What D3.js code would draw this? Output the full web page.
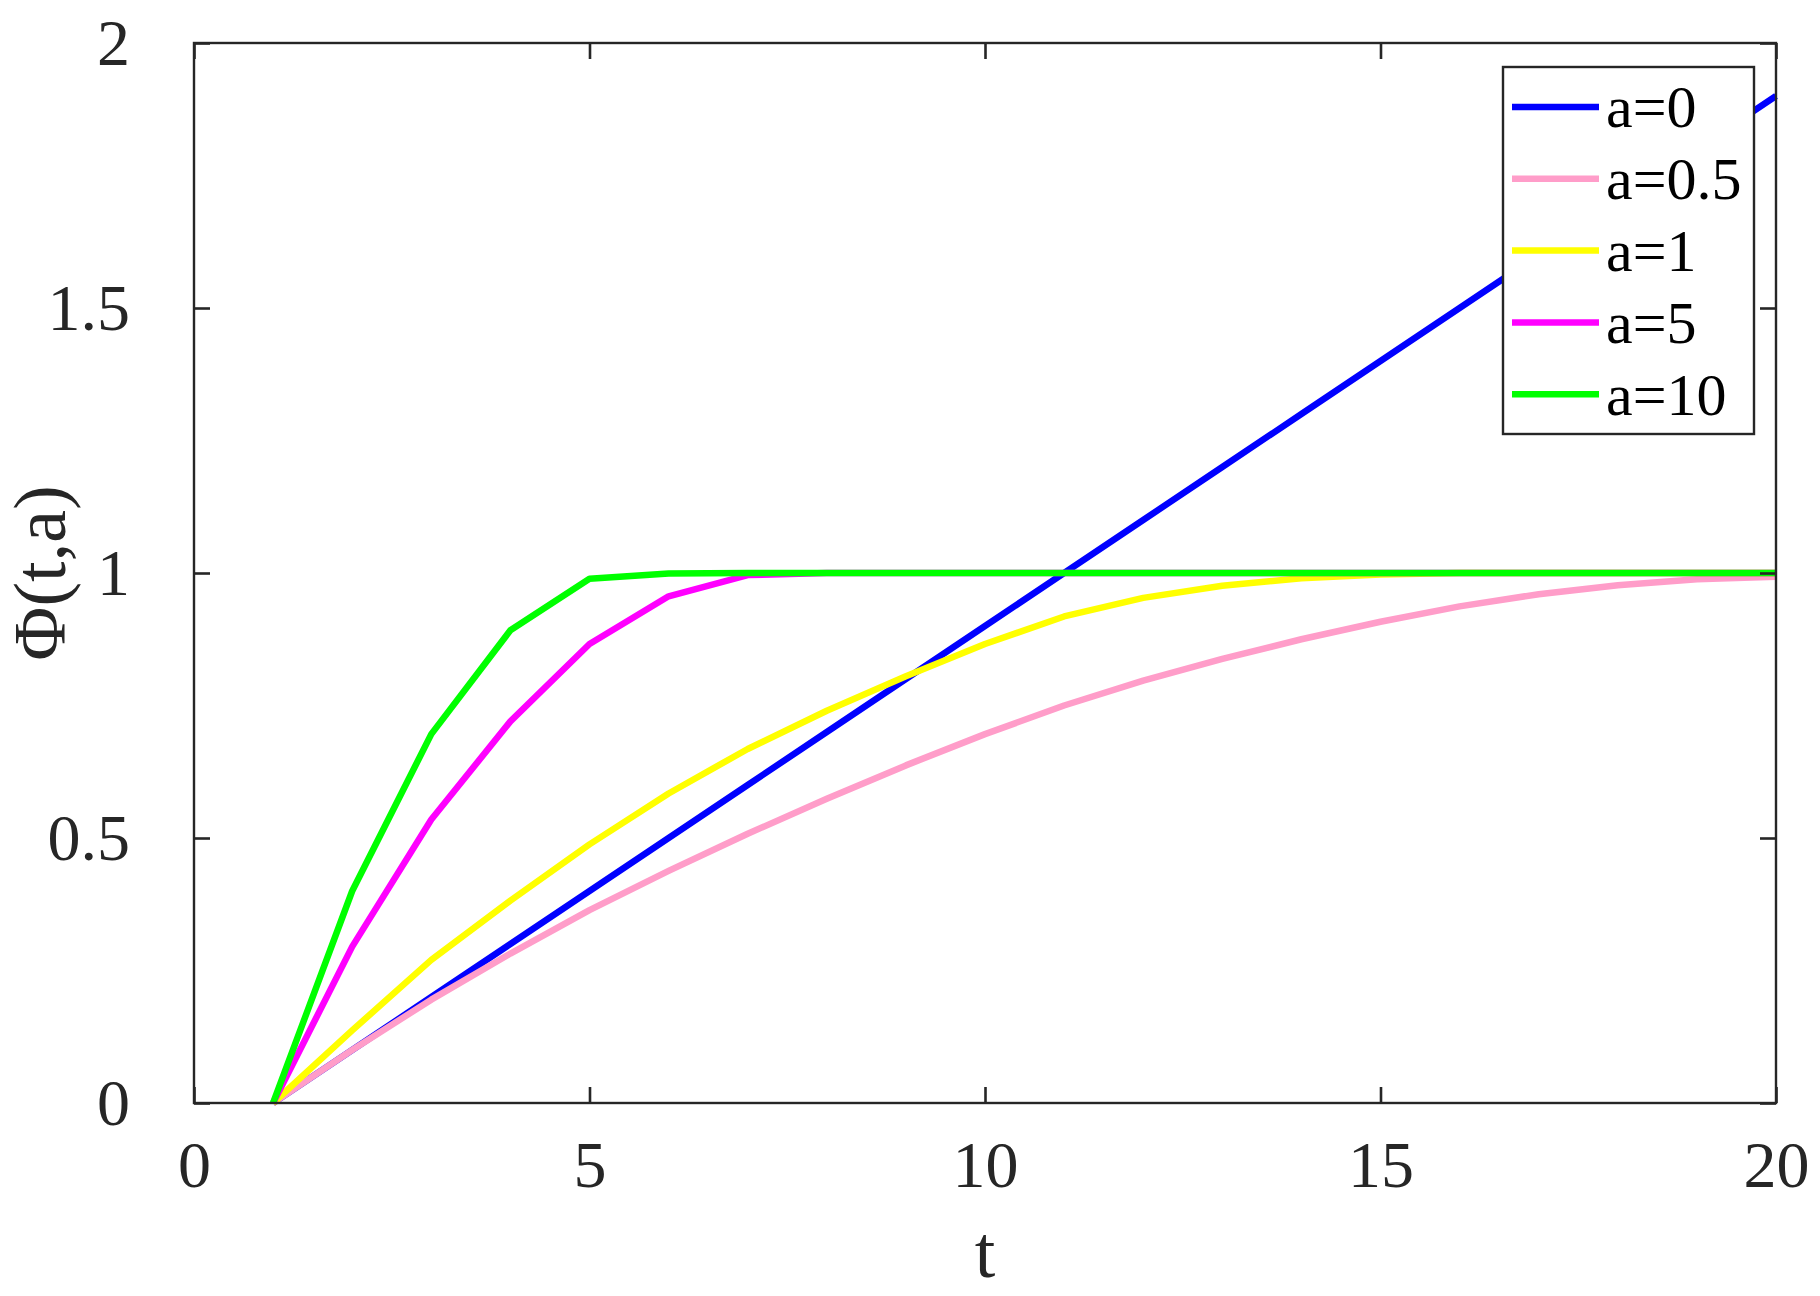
<!DOCTYPE html>
<html>
<head>
<meta charset="utf-8">
<script src="https://cdn.jsdelivr.net/npm/d3@7"></script>
<style>
  html, body { margin: 0; padding: 0; background: #fff; }
  svg text { font-family: "Liberation Serif", "Times New Roman", serif; }
</style>
</head>
<body>
<div id="chart"></div>
<script>
// values
var tValues = [1, 2, 3, 4, 5, 6, 7, 8, 9, 10, 11, 12, 13, 14, 15, 16, 17, 18, 19, 20];
var phiA0   = [0, 0.1, 0.2, 0.3, 0.4, 0.5, 0.6, 0.7, 0.8, 0.9, 1.0, 1.1, 1.2, 1.3, 1.4, 1.5, 1.6, 1.7, 1.8, 1.9];
var phiA05  = [0, 0.10, 0.195, 0.282, 0.364, 0.438, 0.508, 0.574, 0.637, 0.696, 0.750, 0.797, 0.838, 0.875, 0.908, 0.937, 0.960, 0.977, 0.988, 0.993];
var phiA1   = [0, 0.137, 0.27, 0.382, 0.488, 0.584, 0.668, 0.74, 0.805, 0.866, 0.918, 0.953, 0.976, 0.99, 0.997, 1, 1, 1, 1, 1];
var phiA5   = [0, 0.295, 0.535, 0.72, 0.866, 0.956, 0.996, 1, 1, 1, 1, 1, 1, 1, 1, 1, 1, 1, 1, 1];
var phiA10  = [0, 0.40, 0.696, 0.892, 0.989, 0.999, 1, 1, 1, 1, 1, 1, 1, 1, 1, 1, 1, 1, 1, 1];

var seriesNames  = ["a=0", "a=0.5", "a=1", "a=5", "a=10"];
var seriesValues = [phiA0, phiA05, phiA1, phiA5, phiA10];
var seriesColors = ["#0000ff", "#ff9dc9", "#ffff00", "#ff00ff", "#00ff00"];

var xTicks = [0, 5, 10, 15, 20];
var yTicks = [0, 0.5, 1, 1.5, 2];

var W = 1820, H = 1296;
var plotLeft = 194, plotRight = 1776, plotTop = 43, plotBottom = 1103;
var axisColor = "#262626";

var svg = d3.select("#chart").append("svg")
    .attr("width", W)
    .attr("height", H);

var x = d3.scaleLinear().domain([0, 20]).range([plotLeft, plotRight]);
var y = d3.scaleLinear().domain([0, 2]).range([plotBottom, plotTop]);

// lines
var line = d3.line()
    .x(function(d) { return x(d[0]); })
    .y(function(d) { return y(d[1]); });

svg.append("g")
  .selectAll("path")
  .data(seriesValues)
  .enter()
  .append("path")
    .attr("fill", "none")
    .attr("stroke", function(d, i) { return seriesColors[i]; })
    .attr("stroke-width", 6.5)
    .attr("stroke-linejoin", "round")
    .attr("d", function(vals) {
      return line(vals.map(function(v, j) { return [tValues[j], v]; }));
    });

// axes, ticks pointing inward like matlab
function styleAxis(g, fontSize) {
  g.select(".domain").remove();
  g.selectAll(".tick line").attr("stroke", axisColor).attr("stroke-width", 2.6);
  g.selectAll(".tick text").attr("fill", axisColor).style("font-size", fontSize + "px");
}

svg.append("g")
    .attr("transform", "translate(0," + plotBottom + ")")
    .call(d3.axisBottom(x).tickValues(xTicks).tickSize(-16).tickPadding(37).tickFormat(d3.format("d")))
    .call(styleAxis, 66);

svg.append("g")
    .attr("transform", "translate(0," + plotTop + ")")
    .call(d3.axisTop(x).tickValues(xTicks).tickSize(-16).tickFormat(""))
    .call(styleAxis, 66);

svg.append("g")
    .attr("transform", "translate(" + plotLeft + ",0)")
    .call(d3.axisLeft(y).tickValues(yTicks).tickSize(-16).tickPadding(64).tickFormat(function(d) { return String(d); }))
    .call(styleAxis, 66);

svg.append("g")
    .attr("transform", "translate(" + plotRight + ",0)")
    .call(d3.axisRight(y).tickValues(yTicks).tickSize(-16).tickFormat(""))
    .call(styleAxis, 66);

svg.append("rect")
    .attr("x", plotLeft).attr("y", plotTop)
    .attr("width", plotRight - plotLeft).attr("height", plotBottom - plotTop)
    .attr("fill", "none")
    .attr("stroke", axisColor)
    .attr("stroke-width", 2.4);

// axis labels
svg.append("text")
    .attr("x", (plotLeft + plotRight) / 2)
    .attr("y", 1277)
    .attr("text-anchor", "middle")
    .attr("fill", axisColor)
    .style("font-size", "74px")
    .text("t");

svg.append("text")
    .attr("transform", "translate(65," + ((plotTop + plotBottom) / 2) + ") rotate(-90)")
    .attr("text-anchor", "middle")
    .attr("fill", axisColor)
    .style("font-size", "74px")
    .text("Φ(t,a)");

// legend
var legend = svg.append("g");
legend.append("rect")
    .attr("x", 1503).attr("y", 67)
    .attr("width", 251).attr("height", 367)
    .attr("fill", "#fff")
    .attr("stroke", axisColor)
    .attr("stroke-width", 2.4);

var rows = legend.selectAll("g.row")
  .data(seriesNames)
  .enter()
  .append("g")
    .attr("class", "row")
    .attr("transform", function(d, i) { return "translate(0," + (107 + i * 71.8) + ")"; });

rows.append("line")
    .attr("x1", 1512).attr("x2", 1599)
    .attr("stroke", function(d, i) { return seriesColors[i]; })
    .attr("stroke-width", 6.5);

rows.append("text")
    .attr("x", 1606)
    .attr("dy", "0.34em")
    .attr("fill", "#000")
    .style("font-size", "60px")
    .text(function(d) { return d; });
</script>
</body>
</html>
